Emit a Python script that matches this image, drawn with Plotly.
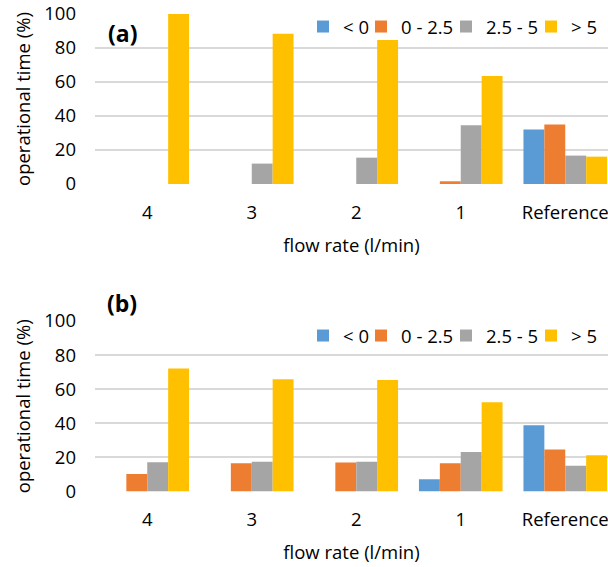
import plotly.graph_objects as go

categories = ["4", "3", "2", "1", "Reference"]
series_names = ["< 0", "0 - 2.5", "2.5 - 5", "> 5"]
colors = ["#5B9BD5", "#ED7D31", "#A5A5A5", "#FFC000"]

# Panel (a)
a_lt0 = [0, 0, 0, 0, 32]
a_0_25 = [0, 0, 0, 1.6, 35]
a_25_5 = [0, 12, 15.5, 34.5, 16.7]
a_gt5 = [100, 88.4, 84.7, 63.5, 16.1]

# Panel (b)
b_lt0 = [0, 0, 0, 7.2, 38.9]
b_0_25 = [10.2, 16.6, 17.0, 16.6, 24.7]
b_25_5 = [17.2, 17.4, 17.4, 23.1, 15.1]
b_gt5 = [72.2, 65.8, 65.4, 52.4, 21.3]

y_ticks = [0, 20, 40, 60, 80, 100]

FONT = "Open Sans"
FS = 18.5
W, H = 608, 567
legend_widths = [13, 40, 40, 26]

fig = go.Figure()
panels = [
    ([a_lt0, a_0_25, a_25_5, a_gt5], "x", "y", "legend"),
    ([b_lt0, b_0_25, b_25_5, b_gt5], "x2", "y2", "legend2"),
]
for vals, xa, ya, lg in panels:
    for name, v, c, lw in zip(series_names, vals, colors, legend_widths):
        fig.add_trace(go.Bar(
            x=categories, y=v, name=name, marker=dict(color=c, line=dict(width=0)),
            xaxis=xa, yaxis=ya, legend=lg, legendwidth=lw,
        ))

def ypaper(px):
    return 1 - px / H

left = 95
plot_w = W - left
cat_w = 104.5
xr = [-0.5, -0.5 + plot_w / cat_w]

def xpaper(px):
    return (px - left) / plot_w

axis_common_x = dict(
    type="category", range=xr, showgrid=False, showline=False, zeroline=False, ticks="",
    tickfont=dict(family=FONT, size=FS, color="#000"), automargin=False,
    ticklabelstandoff=15, fixedrange=True,
    title=dict(text="flow rate (l/min)", font=dict(family=FONT, size=FS, color="#000"), standoff=16),
)
axis_common_y = dict(
    range=[0, 100], tickvals=y_ticks, showgrid=True, gridcolor="#D9D9D9", gridwidth=1.5,
    showline=False, zeroline=False, ticks="", automargin=False, fixedrange=True,
    tickfont=dict(family=FONT, size=FS, color="#000"), ticklabelstandoff=18,
    title=dict(text="operational time (%)", font=dict(family=FONT, size=FS, color="#000"), standoff=8),
)

legend_x = xpaper(303)
fig.update_layout(
    width=W, height=H, template="none",
    margin=dict(l=left, r=0, t=0, b=0, autoexpand=False),
    paper_bgcolor="white", plot_bgcolor="white",
    barmode="group", bargap=0.2, bargroupgap=0,
    font=dict(family=FONT, size=FS, color="#000"),
    xaxis=dict(domain=[0, 1], anchor="y", **axis_common_x),
    xaxis2=dict(domain=[0, 1], anchor="y2", **axis_common_x),
    yaxis=dict(domain=[ypaper(184), ypaper(14)], anchor="x", **axis_common_y),
    yaxis2=dict(domain=[ypaper(491.5), ypaper(321)], anchor="x2", **axis_common_y),
    legend=dict(orientation="h", x=legend_x, xanchor="left", y=ypaper(27), yanchor="middle",
                bgcolor="rgba(0,0,0,0)", font=dict(family=FONT, size=FS, color="#000"), traceorder="normal"),
    legend2=dict(orientation="h", x=legend_x, xanchor="left", y=ypaper(336), yanchor="middle",
                 bgcolor="rgba(0,0,0,0)", font=dict(family=FONT, size=FS, color="#000"), traceorder="normal"),
    annotations=[
        dict(text="<b>(a)</b>", x=xpaper(122), y=ypaper(33), xref="paper", yref="paper",
             xanchor="center", yanchor="middle",
             showarrow=False, font=dict(family=FONT, size=23, color="#000")),
        dict(text="<b>(b)</b>", x=xpaper(122), y=ypaper(303), xref="paper", yref="paper",
             xanchor="center", yanchor="middle",
             showarrow=False, font=dict(family=FONT, size=23, color="#000")),
    ],
    showlegend=True,
)

fig.write_html("out.html", config={"displayModeBar": False},
               post_script="document.body.style.margin='0';document.body.style.overflow='hidden';")
